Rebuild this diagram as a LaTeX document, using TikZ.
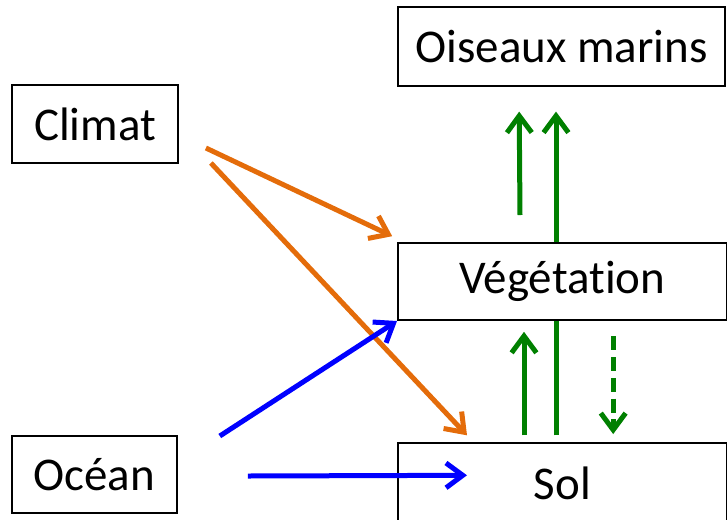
\documentclass[tikz,border=0pt]{standalone}
\usepackage{fontspec}
\setmainfont[Ligatures=NoCommon]{Carlito}
\usetikzlibrary{arrows.meta, positioning, calc}

\definecolor{orangeline}{RGB}{228,108,10}
\definecolor{greenline}{RGB}{0,128,0}

\begin{document}
\begin{tikzpicture}[
    box/.style={rectangle, draw=black, line width=0.045cm, fill=white, align=center, font=\fontsize{33.4}{40}\selectfont},
    barb/.style={-{Straight Barb[length=0.42cm, width=0.62cm]}, line width=0.125cm},
    climate/.style={barb, draw=orangeline},
    sea/.style={barb, draw=blue},
    flux/.style={barb, draw=greenline},
    fluxdown/.style={barb, draw=greenline, dash pattern=on 0.35cm off 0.17cm}
]
\clip (0,0) rectangle (18.175,-12.975);

% ==================== Boxes (right column) ====================
\node[box, minimum width=8.175cm, minimum height=1.975cm] (Oiseaux) at (14.04,-1.16) {Oiseaux marins};
\node[box, minimum width=8.225cm, minimum height=1.925cm] (Veg) at (14.06,-7.04) {Végétation};
\node[box, minimum width=8.225cm, minimum height=2.0cm] (Sol) at (14.06,-12.075) {Sol};

% ==================== Drivers (left column) ====================
\node[box, minimum width=4.15cm, minimum height=1.95cm] (Climat) at (2.375,-3.1) {Climat};
\node[box, minimum width=4.125cm, minimum height=1.925cm] (Ocean) at (2.36,-11.86) {Océan};

% Climate forcing
\draw[climate] ($(Climat.east)+(0.675,-0.6)$) -- ($(Veg.north west)+(-0.12,0.15)$);
\draw[climate] ($(Climat.east)+(0.8,-0.975)$) -- ($(Sol.north west)+(1.75,0.17)$);

% Ocean forcing
\draw[sea] ($(Ocean.east)+(1.05,0.96)$) -- (Veg.south west);
\draw[sea] ($(Ocean.east)+(1.75,-0.04)$) -- ($(Sol.north west)+(1.75,-0.83)$);

% ==================== Vertical exchanges ====================
\draw[flux] ($(Veg.north)+(-1.06,0.68)$) -- ($(Oiseaux.south)+(-1.06,-0.62)$);
\draw[flux] ($(Veg.north)+(-0.16,0)$) -- ($(Oiseaux.south)+(-0.14,-0.62)$);

\draw[flux] ($(Sol.north)+(-0.96,0.17)$) -- ($(Veg.south)+(-0.96,-0.27)$);
\draw[line width=0.125cm, draw=greenline] ($(Sol.north)+(-0.16,0.17)$) -- ($(Veg.south)+(-0.16,0)$);
\draw[fluxdown] ($(Veg.south)+(1.27,-0.38)$) -- ($(Sol.north)+(1.27,0.2)$);

\end{tikzpicture}
\end{document}
